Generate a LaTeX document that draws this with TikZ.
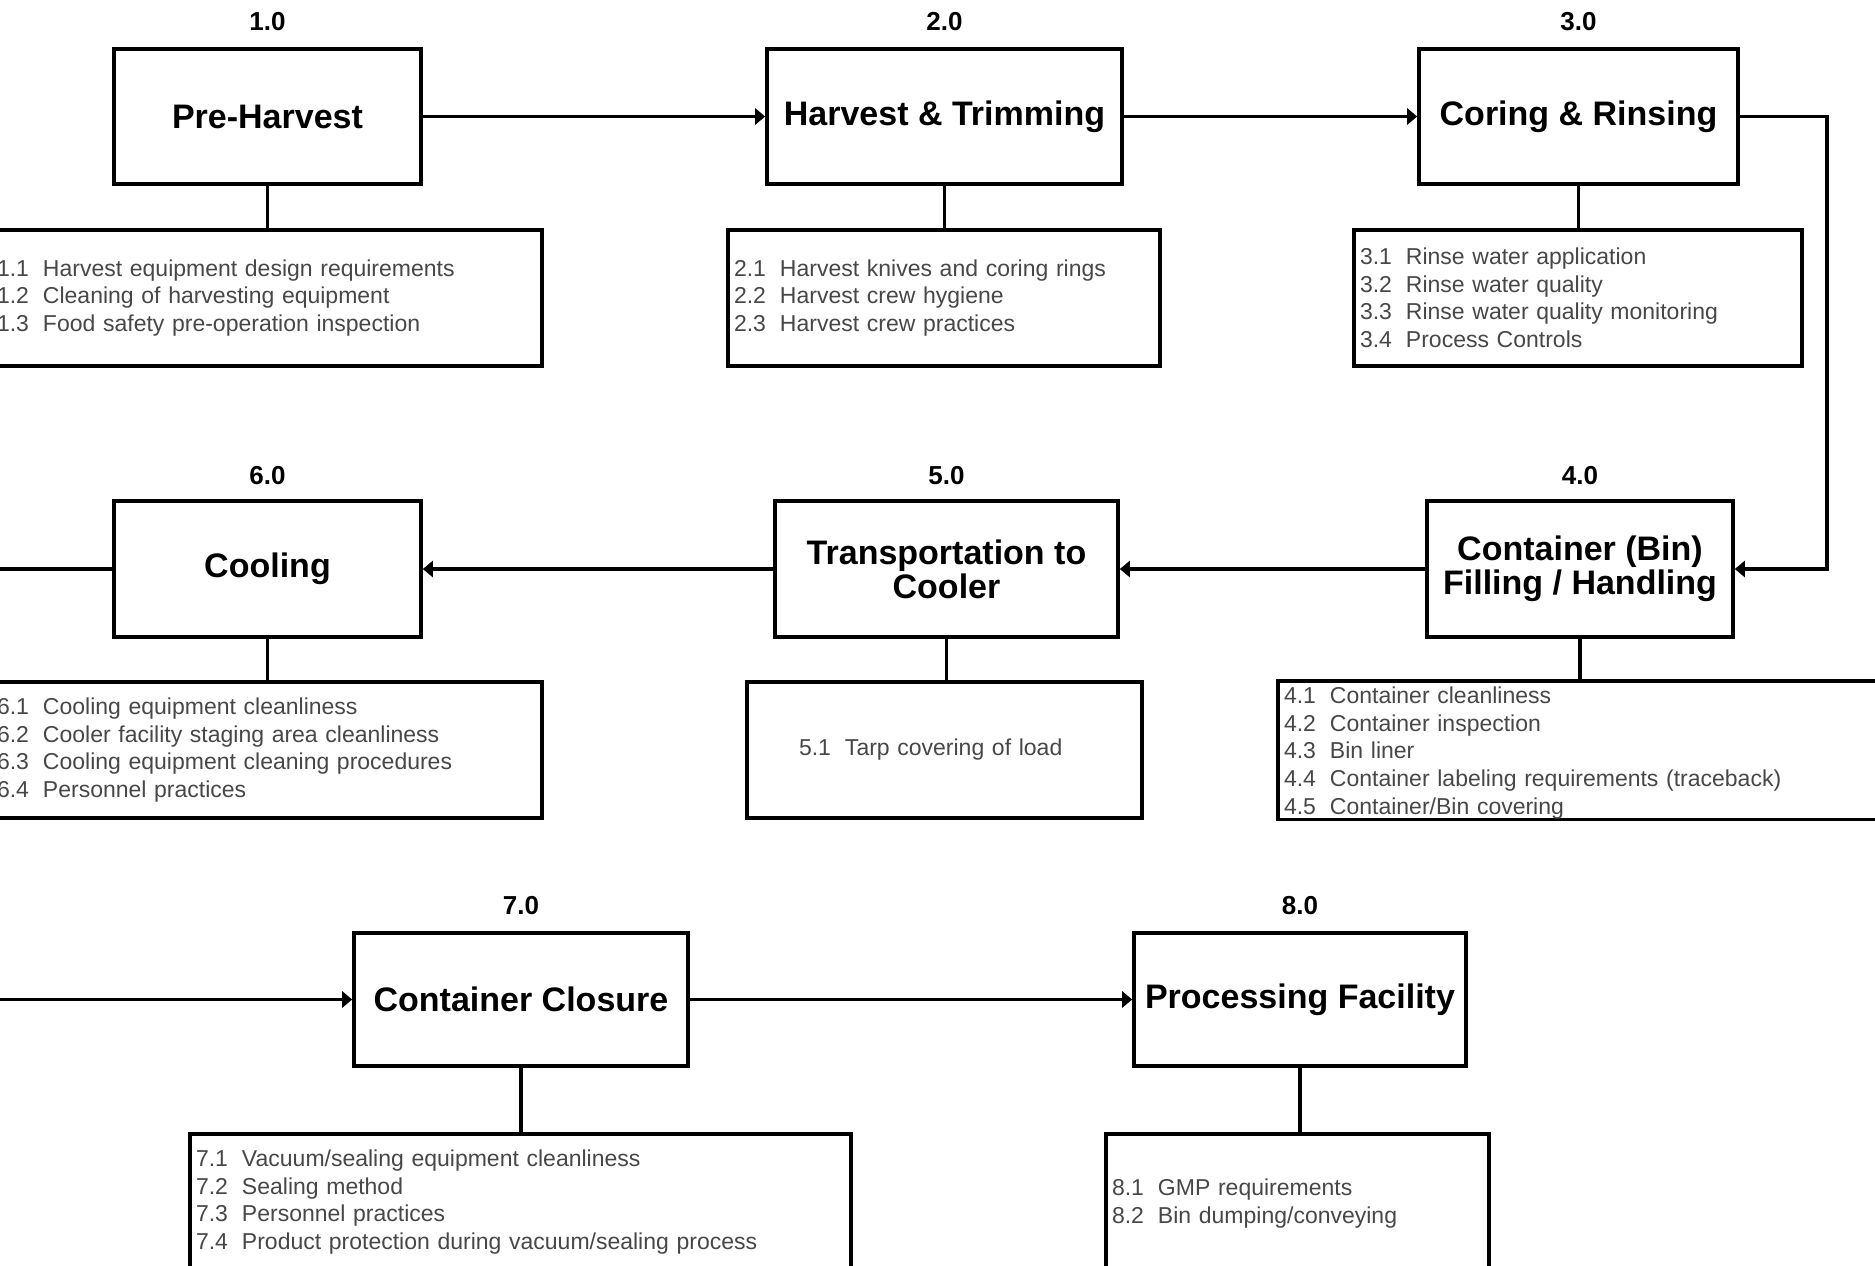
\documentclass[tikz,border=0pt]{standalone}
\usepackage{fontspec}
\setmainfont{Liberation Sans}
\usetikzlibrary{arrows.meta}
\newcommand\itm[1]{\makebox[2em][l]{#1}}
\begin{document}
\begin{tikzpicture}[x=0.5pt,y=-0.5pt,
  stage/.style={draw, line width=1.8pt, font=\fontsize{17}{17}\selectfont\bfseries, align=center, inner sep=0pt},
  subbox/.style={draw, line width=1.8pt, inner xsep=3pt, inner ysep=0pt, align=left, text=black!72, font=\fontsize{11.5}{13.75}\selectfont},
  num/.style={font=\fontsize{13}{13}\selectfont\bfseries, inner sep=0pt},
  flow/.style={line width=1.8pt, -{Triangle[length=5pt,width=8pt]}},
  link/.style={line width=1.8pt}]
\useasboundingbox (0,0) rectangle (1875,1265);
\clip (0,0) rectangle (1875,1265);
\fill[white] (0,0) rectangle (1875,1265);

% stage boxes
\node[stage, minimum width=153.5pt, minimum height=67.5pt] (b1) at (267.5,116.5) {Pre-Harvest};
\node[stage, minimum width=177.5pt, minimum height=67.5pt] (b2) at (944.5,116.5) {Harvest \& Trimming};
\node[stage, minimum width=159.5pt, minimum height=67.5pt] (b3) at (1578.5,116.5) {Coring \& Rinsing};
\node[stage, minimum width=153pt, minimum height=68pt] (b4) at (1580,569) {Container (Bin)\\Filling / Handling};
\node[stage, minimum width=171.5pt, minimum height=68pt] (b5) at (946.5,569) {Transportation to\\Cooler};
\node[stage, minimum width=153.5pt, minimum height=68pt] (b6) at (267.5,569) {Cooling};
\node[stage, minimum width=167pt, minimum height=66.5pt] (b7) at (521,999.5) {Container Closure};
\node[stage, minimum width=166pt, minimum height=66.5pt] (b8) at (1300,999.5) {Processing Facility};

% numbers
\node[num] (n1) at ([yshift=13pt]b1.north) {1.0};
\node[num] (n2) at ([yshift=13pt]b2.north) {2.0};
\node[num] (n3) at ([yshift=13pt]b3.north) {3.0};
\node[num] (n4) at ([yshift=12pt]b4.north) {4.0};
\node[num] (n5) at ([yshift=12pt]b5.north) {5.0};
\node[num] (n6) at ([yshift=12pt]b6.north) {6.0};
\node[num] (n7) at ([yshift=13pt]b7.north) {7.0};
\node[num] (n8) at ([yshift=13pt]b8.north) {8.0};

% sub boxes
\node[subbox, minimum width=275.5pt, minimum height=68pt, text width=269.5pt] (s1) at (266.5,298)
 {\itm{1.1}Harvest equipment design requirements\\\itm{1.2}Cleaning of harvesting equipment\\\itm{1.3}Food safety pre-operation inspection};
\node[subbox, minimum width=216pt, minimum height=68pt, text width=210pt] (s2) at (944,298)
 {\itm{2.1}Harvest knives and coring rings\\\itm{2.2}Harvest crew hygiene\\\itm{2.3}Harvest crew practices};
\node[subbox, minimum width=224pt, minimum height=68pt, text width=218pt] (s3) at (1578,298)
 {\itm{3.1}Rinse water application\\\itm{3.2}Rinse water quality\\\itm{3.3}Rinse water quality monitoring\\\itm{3.4}Process Controls};
\node[subbox, minimum width=311pt, minimum height=68pt, text width=305pt, font=\fontsize{11.5}{13.9}\selectfont] (s4) at (1589,750)
 {\rule{0pt}{11.3pt}\itm{4.1}Container cleanliness\\\itm{4.2}Container inspection\\\itm{4.3}Bin liner\\\itm{4.4}Container labeling requirements (traceback)\\\itm{4.5}Container/Bin covering};
\node[subbox, inner xsep=26pt, minimum width=197.5pt, minimum height=68pt, text width=145.5pt] (s5) at (944.5,750)
 {\itm{5.1}Tarp covering of load};
\node[subbox, minimum width=275.5pt, minimum height=68pt, text width=269.5pt] (s6) at (266.5,750)
 {\itm{6.1}Cooling equipment cleanliness\\\itm{6.2}Cooler facility staging area cleanliness\\\itm{6.3}Cooling equipment cleaning procedures\\\itm{6.4}Personnel practices};
\node[subbox, minimum width=330.5pt, minimum height=68pt, text width=324.5pt] (s7) at (520.5,1202)
 {\itm{7.1}Vacuum/sealing equipment cleanliness\\\itm{7.2}Sealing method\\\itm{7.3}Personnel practices\\\itm{7.4}Product protection during vacuum/sealing process};
\node[subbox, minimum width=191.5pt, minimum height=69.5pt, text width=185.5pt] (s8) at (1297.5,1203.5)
 {\itm{8.1}GMP requirements\\\itm{8.2}Bin dumping/conveying};

% flow connectors
\coordinate (r) at (1827,0);
\coordinate (l6) at (-20,569);
\coordinate (l7) at (-20,999.5);
\draw[flow] (b1) -- (b2);
\draw[flow] (b2) -- (b3);
\draw[flow] (b3.east) -- (b3.east -| r) -- (b4.east -| r) -- (b4.east);
\draw[flow] (b4) -- (b5);
\draw[flow] (b5) -- (b6);
\draw[link] (b6.west) -- (l6);
\draw[flow] (l7) -- (b7.west);
\draw[flow] (b7) -- (b8);

% links to sub boxes
\draw[link] (b1.south) -- (b1.south |- s1.north);
\draw[link] (b2.south) -- (b2.south |- s2.north);
\draw[link] (b3.south) -- (b3.south |- s3.north);
\draw[link] (b4.south) -- (b4.south |- s4.north);
\draw[link] (b5.south) -- (b5.south |- s5.north);
\draw[link] (b6.south) -- (b6.south |- s6.north);
\draw[link] (b7.south) -- (b7.south |- s7.north);
\draw[link] (b8.south) -- (b8.south |- s8.north);
\end{tikzpicture}
\end{document}
